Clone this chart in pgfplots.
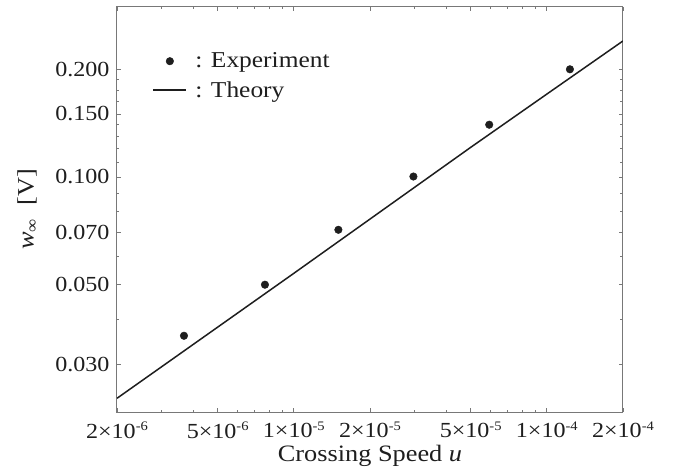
\documentclass[border=0pt]{standalone}
\usepackage{pgfplots}
\pgfplotsset{compat=1.18}
\usepackage{fontspec}
\setmainfont{Liberation Serif}[FakeStretch=1.12]
\definecolor{axgray}{RGB}{120,120,120}
\definecolor{ink}{RGB}{30,30,30}
\newcommand{\ex}[1]{\raisebox{0.8ex}{\fontsize{13}{13}\selectfont -#1}}
\pgfplotsset{
  dotleg/.style={legend image code/.code={\draw[##1] plot coordinates {(16.5pt,0pt)};}},
  lineleg/.style={legend image code/.code={\draw[##1] (0pt,0pt) -- (33pt,0pt);}},
}
\begin{document}
\begin{tikzpicture}
\useasboundingbox (0,0) rectangle (673pt,476pt);
\begin{axis}[
  at={(117pt,64pt)},anchor=south west,
  scale only axis,width=506pt,height=405pt,
  xmode=log,ymode=log,
  xmin=2e-6,xmax=2e-4,ymin=0.02204,ymax=0.2986,
  xtick={2e-6,5e-6,1e-5,2e-5,5e-5,1e-4,2e-4},
  xticklabels={2×10\ex{6},5×10\ex{6},1×10\ex{5},2×10\ex{5},5×10\ex{5},1×10\ex{4},2×10\ex{4}},
  minor xtick={3e-6,4e-6,6e-6,7e-6,8e-6,9e-6,3e-5,4e-5,6e-5,7e-5,8e-5,9e-5},
  ytick={0.03,0.05,0.07,0.1,0.15,0.2},
  yticklabels={0.030,0.050,0.070,0.100,0.150,0.200},
  minor ytick={0.04,0.06,0.08,0.09,0.11,0.12,0.13,0.14,0.1625,0.175,0.1875},
  tick align=inside,
  major tick length=4pt,minor tick length=2.5pt,
  every tick/.style={axgray,line width=0.8pt},
  axis line style={axgray,line width=1pt},
  tick label style={font=\fontsize{21.5}{25}\selectfont,text=ink},
  xticklabel style={yshift=-6pt},
  yticklabel style={xshift=-4pt},
  label style={font=\fontsize{23.5}{28}\selectfont,text=ink},
  xlabel={Crossing Speed \textit{u}},
  ylabel={\textit{w}\textsubscript{∞}\ \ [V]},
  xlabel style={yshift=0pt},
  ylabel style={yshift=11pt},
  legend style={draw=none,fill=none,font=\fontsize{22.7}{27}\selectfont,text=ink,
    at={(0.07,0.892)},anchor=north west,inner sep=0pt,
    row sep=8pt,
    nodes={inner sep=2pt}},
  legend cell align=left,
]
\addplot[only marks,mark=*,mark size=3.8pt,color=ink,dotleg]
  coordinates {
  (3.68e-6,0.0360)
  (7.69e-6,0.0500)
  (1.50e-5,0.0712)
  (2.97e-5,0.1003)
  (5.92e-5,0.1400)
  (1.234e-4,0.2000)
};
\addlegendentry{\ : Experiment}
\addplot[ink,line width=1.5pt,lineleg]
  coordinates {
  (2e-6,0.02407)
  (1e-5,0.0538)
  (5e-5,0.1210)
  (1e-4,0.1705)
  (2e-4,0.2400)
};
\addlegendentry{\ : Theory}
\end{axis}
\end{tikzpicture}
\end{document}
